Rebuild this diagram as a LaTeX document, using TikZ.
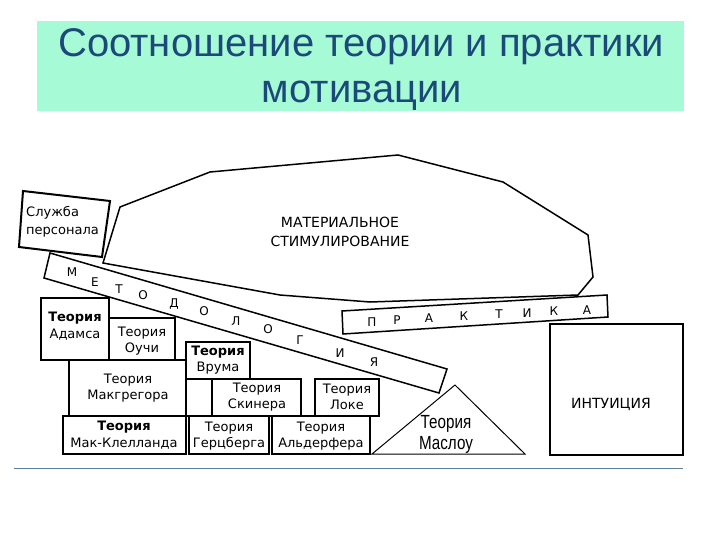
\documentclass[tikz,border=0pt]{standalone}
\usepackage{fontspec}
\usepackage{graphicx}
\setmainfont{Liberation Sans}
\newfontfamily\boxfont{DejaVu Sans}
\definecolor{bandgreen}{RGB}{166,250,214}
\definecolor{titleblue}{RGB}{28,74,120}
\definecolor{rulegray}{RGB}{95,128,155}
\begin{document}
\begin{tikzpicture}[x=1pt, y=-1pt,
    txt/.style={font=\boxfont\fontsize{13}{16.5}\selectfont, align=center, inner sep=0pt},
    ltr/.style={font=\boxfont\fontsize{12}{14}\selectfont, inner sep=0pt},
    thin box/.style={draw, line width=1.3pt},
    thick box/.style={draw, line width=2pt}]
  \useasboundingbox (0, 0) rectangle (720, 540);

  % title
  \fill [bandgreen] (37, 21) rectangle (684, 111);
  \node [text=titleblue, font=\fontsize{40}{48}\selectfont, inner sep=0pt] (title1) at (361, 47) {Соотношение теории и практики};
  \node [text=titleblue, font=\fontsize{40}{48}\selectfont, inner sep=0pt] (title2) at (362, 96) {мотивации};
  \draw [rulegray, line width=0.8pt] (14, 468) -- (683, 468);

  % cloud
  \draw [line width=1.5pt] (120, 207) -- (210, 172) -- (398, 155) -- (503, 182) -- (588, 235)
        -- (593, 277) -- (578, 295) -- (370, 302) -- (280, 295) -- (103, 263) -- cycle;
  \node [txt, font=\boxfont\fontsize{14}{19}\selectfont] (cloud) at (340, 232) {МАТЕРИАЛЬНОЕ\\СТИМУЛИРОВАНИЕ};

  % service box
  \draw [thick box] (23, 191) -- (110, 201) -- (102, 257) -- (19, 247) -- cycle;
  \node [txt, anchor=west] (service1) at (26, 213) {Служба};
  \node [txt, anchor=west] (service2) at (26, 232) {персонала};

  % methodology strip
  \draw [line width=1.5pt] (50, 253) -- (447, 369) -- (439, 393) -- (44, 278) -- cycle;
  \foreach \l/\x/\y [count=\i] in {М/72/272, Е/95/282, Т/119/289, О/143/295, Д/174/304, О/204/311,
                                   Л/236/321, О/268/329, Г/300/340, И/340/353, Я/374/362}
    \node [ltr] (meth\i) at (\x, \y) {\l};

  % practice box
  \draw [line width=1.5pt] (342, 311) -- (607, 295) -- (608, 317) -- (343, 334) -- cycle;
  \foreach \l/\x/\y [count=\i] in {П/372/322, Р/397/320, А/429/318, К/464/316,
                                   Т/499/314, И/527/313, К/554/311, А/587/310}
    \node [ltr] (prac\i) at (\x, \y) {\l};

  % intuition
  \draw [thin box] (550, 324) rectangle (683, 455);
  \node [txt, font=\boxfont\fontsize{14}{16}\selectfont] (intuition) at (611, 404) {ИНТУИЦИЯ};

  % theories
  \draw [thin box] (69, 360) rectangle (186, 416);
  \draw [thin box] (186, 379) rectangle (212, 416);
  \draw [thin box] (212, 379) rectangle (301, 416);
  \draw [thin box] (109, 318) rectangle (175, 360);
  \draw [thin box] (175, 360) -- (186, 360);
  \draw [thin box] (63, 416) rectangle (186, 454);
  \draw [thin box] (189, 416) rectangle (269, 454);
  \draw [thin box] (272, 416) rectangle (370, 454);
  \draw [thick box] (41, 298) rectangle (109, 360);
  \draw [thick box] (186, 342) rectangle (250, 379);
  \draw [thick box] (315, 379) rectangle (379, 416);
  \draw [line width=1pt] (455, 385) -- (525, 454) -- (372, 454) -- cycle;

  \node [txt] (adams) at (75, 326) {\textbf{Теория}\\Адамса};
  \node [txt] (ouchi) at (142, 341) {Теория\\Оучи};
  \node [txt] (vroom) at (218, 360) {\textbf{Теория}\\Врума};
  \node [txt] (mcgregor) at (128, 388) {Теория\\Макгрегора};
  \node [txt] (skinner) at (257, 397) {Теория\\Скинера};
  \node [txt] (locke) at (347, 397) {Теория\\Локе};
  \node [txt] (mcclelland) at (124, 435) {\textbf{Теория}\\Мак-Клелланда};
  \node [txt] (herzberg) at (229, 436) {Теория\\Герцберга};
  \node [txt] (alderfer) at (321, 436) {Теория\\Альдерфера};
  \node [font=\fontsize{19}{21}\selectfont, align=center, inner sep=0pt] (maslow) at (446, 434)
        {\scalebox{0.8}[1]{Теория}\\\scalebox{0.8}[1]{Маслоу}};
\end{tikzpicture}
\end{document}
